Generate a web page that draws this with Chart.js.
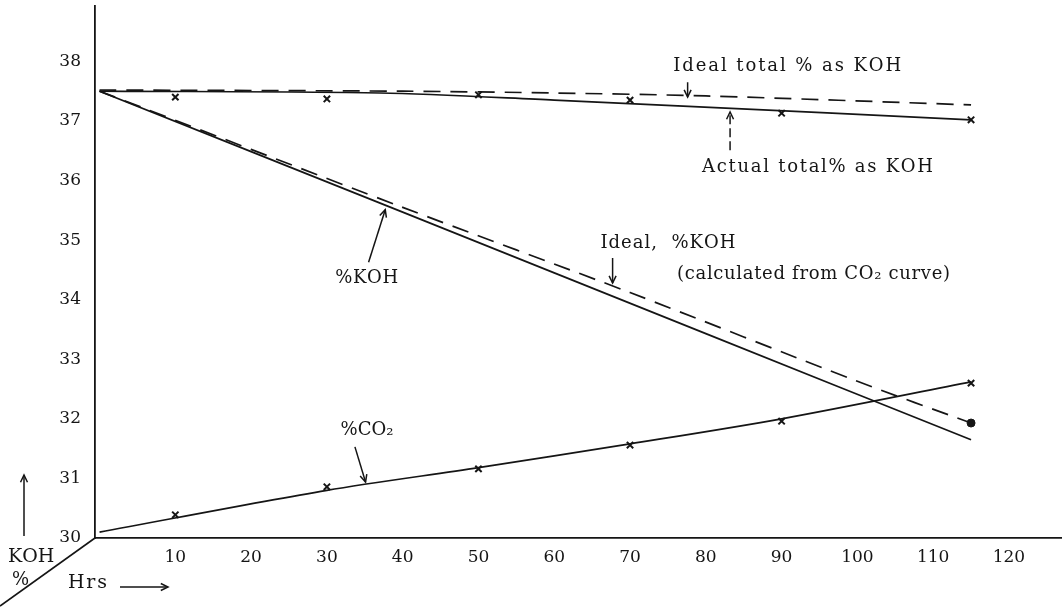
<!DOCTYPE html>
<html>
<head>
<meta charset="utf-8">
<script src="https://cdn.jsdelivr.net/npm/chart.js@4/dist/chart.umd.min.js"></script>
<style>
  html, body { margin: 0; padding: 0; background: #ffffff; }
  #wrap { width: 1062px; height: 608px; position: relative; }
</style>
</head>
<body>
<div id="wrap"><canvas id="c" width="1062" height="608"></canvas></div>
<script>
// ---------------- DATA ----------------
const xTickValues = [10, 20, 30, 40, 50, 60, 70, 80, 90, 100, 110, 120];
const yTickValues = [30, 31, 32, 33, 34, 35, 36, 37, 38];

// Marker readings (x crosses)
const markHours = [10, 30, 50, 70, 90, 115];
const actualTotalMarks = [37.40, 37.37, 37.44, 37.35, 37.13, 37.02];
const co2Marks = [30.39, 30.86, 31.16, 31.56, 31.96, 32.60];

// Drawn curves
const actualTotalHours = [0, 37, 60, 77, 115];
const actualTotalLine = [37.50, 37.47, 37.35, 37.25, 37.02];

const idealTotalHours = [0, 40, 60, 80, 115];
const idealTotalLine = [37.52, 37.50, 37.47, 37.42, 37.27];

const kohHours = [0, 40, 80, 115];
const kohLine = [37.50, 35.47, 33.43, 31.65];

const idealKohHours = [0, 40, 70, 100, 115];
const idealKohLine = [37.50, 35.55, 34.12, 32.63, 31.93];

const co2Hours = [0, 30, 50, 70, 90, 115];
const co2Line = [30.10, 30.80, 31.18, 31.58, 32.00, 32.62];

const idealKohEndHours = [115];
const idealKohEnd = [31.93];

// ---------------- HELPERS ----------------
function pts(xs, ys) { return xs.map((x, i) => ({ x: x, y: ys[i] })); }
const INK = '#151515';
const SERIF = '"DejaVu Serif", "Liberation Serif", serif';

function lineDS(xs, ys, dashed) {
  return {
    data: pts(xs, ys), showLine: true, borderColor: INK, borderWidth: 1.7,
    borderDash: dashed ? [17, 10] : [], pointRadius: 0, tension: 0.3,
    fill: false
  };
}
function markDS(xs, ys) {
  return {
    data: pts(xs, ys), showLine: false, pointStyle: 'crossRot',
    pointRadius: 4.5, pointBorderWidth: 2, pointBorderColor: INK,
    borderColor: INK, backgroundColor: INK
  };
}

// text with spacing fitted to a width, left-aligned, vertically centred
function fitText(ctx, text, x, y, width, size) {
  ctx.save();
  ctx.font = size + 'px ' + SERIF;
  ctx.fillStyle = INK;
  ctx.textBaseline = 'middle';
  ctx.textAlign = 'left';
  const chars = Array.from(text);
  const widths = chars.map(ch => ctx.measureText(ch).width);
  const natural = widths.reduce((a, b) => a + b, 0);
  const gap = chars.length > 1 ? Math.max(0, (width - natural) / (chars.length - 1)) : 0;
  let cx = x;
  chars.forEach((ch, i) => { ctx.fillText(ch, cx, y); cx += widths[i] + gap; });
  ctx.restore();
}
function arrow(ctx, x1, y1, x2, y2, dashed) {
  ctx.save();
  ctx.strokeStyle = INK; ctx.lineWidth = 1.5;
  if (dashed) ctx.setLineDash([9, 4]);
  ctx.beginPath(); ctx.moveTo(x1, y1); ctx.lineTo(x2, y2); ctx.stroke();
  ctx.setLineDash([]);
  const a = Math.atan2(y2 - y1, x2 - x1), L = 8, s = 0.45;
  ctx.beginPath();
  ctx.moveTo(x2 - L * Math.cos(a - s), y2 - L * Math.sin(a - s));
  ctx.lineTo(x2, y2);
  ctx.lineTo(x2 - L * Math.cos(a + s), y2 - L * Math.sin(a + s));
  ctx.stroke();
  ctx.restore();
}

// annotation anchors in data units (hours, %)
const notes = [
  { t: 'Ideal total % as KOH', h: 75.7, v: 37.91, w: 228 },
  { t: 'Actual total% as KOH', h: 79.5, v: 36.23, w: 231 },
  { t: 'Ideal,  %KOH', h: 66.1, v: 34.95, w: 135 },
  { t: '(calculated from CO₂ curve)', h: 76.2, v: 34.42, w: 273 },
  { t: '%KOH', h: 31.1, v: 34.36, w: 63 },
  { t: '%CO₂', h: 31.8, v: 31.81, w: 53 }
];
const arrows = [
  { h1: 77.6, v1: 37.65, h2: 77.6, v2: 37.40, dashed: false },
  { h1: 83.2, v1: 36.51, h2: 83.2, v2: 37.15, dashed: true },
  { h1: 67.7, v1: 34.70, h2: 67.7, v2: 34.28, dashed: false },
  { h1: 35.5, v1: 34.63, h2: 37.7, v2: 35.51, dashed: false },
  { h1: 33.7, v1: 31.53, h2: 35.1, v2: 30.94, dashed: false }
];

const annotate = {
  id: 'annotate',
  afterDraw(chart) {
    const ctx = chart.ctx, xs = chart.scales.x, ys = chart.scales.y;
    notes.forEach(n => fitText(ctx, n.t, xs.getPixelForValue(n.h), ys.getPixelForValue(n.v), n.w, 18));
    arrows.forEach(a => arrow(ctx,
      xs.getPixelForValue(a.h1), ys.getPixelForValue(a.v1),
      xs.getPixelForValue(a.h2), ys.getPixelForValue(a.v2), a.dashed));
    // axis furniture outside the plot area
    const L = chart.chartArea.left, B = chart.chartArea.bottom;
    ctx.save();
    ctx.strokeStyle = INK; ctx.lineWidth = 1.6;
    ctx.beginPath(); ctx.moveTo(L, B); ctx.lineTo(L - 95, B + 68); ctx.stroke();
    ctx.restore();
    fitText(ctx, 'KOH', L - 87, B + 19, 45, 19);
    fitText(ctx, '%', L - 83, B + 42, 14, 18);
    arrow(ctx, L - 71, B - 2, L - 71, B - 63, false);
    fitText(ctx, 'Hrs', L - 27, B + 45, 39, 19);
    arrow(ctx, L + 25, B + 49, L + 73, B + 49, false);
  }
};

const chart = new Chart(document.getElementById('c'), {
  type: 'scatter',
  data: {
    datasets: [
      lineDS(idealTotalHours, idealTotalLine, true),
      lineDS(actualTotalHours, actualTotalLine, false),
      lineDS(idealKohHours, idealKohLine, true),
      lineDS(kohHours, kohLine, false),
      lineDS(co2Hours, co2Line, false),
      markDS(markHours, actualTotalMarks),
      markDS(markHours, co2Marks),
      { data: pts(idealKohEndHours, idealKohEnd), showLine: false, pointStyle: 'circle',
        pointRadius: 4, backgroundColor: INK, borderColor: INK }
    ]
  },
  options: {
    responsive: false,
    animation: false,
    events: [],
    layout: { autoPadding: false, padding: { top: 6, left: 0, right: 0, bottom: 0 } },
    plugins: { legend: { display: false }, tooltip: { enabled: false }, title: { display: false } },
    scales: {
      x: {
        type: 'linear', min: -0.6, max: 127,
        afterFit(s) { s.height = 70; s.paddingLeft = 0; s.paddingRight = 0; },
        afterBuildTicks(s) { s.ticks = xTickValues.map(v => ({ value: v })); },
        grid: { display: false, drawTicks: false },
        border: { display: true, color: INK, width: 1.8 },
        ticks: { padding: 9, color: INK, font: { family: SERIF, size: 17 }, maxRotation: 0, autoSkip: false,
                 callback: v => String(v) }
      },
      y: {
        type: 'linear', min: 30, max: 38.93,
        afterFit(s) { s.width = 95; s.paddingTop = 0; s.paddingBottom = 0; },
        afterBuildTicks(s) { s.ticks = yTickValues.map(v => ({ value: v })); },
        grid: { display: false, drawTicks: false },
        border: { display: true, color: INK, width: 1.8 },
        ticks: { padding: 14, color: INK, font: { family: SERIF, size: 17 }, autoSkip: false,
                 callback: v => String(v) }
      }
    }
  },
  plugins: [annotate]
});
</script>
</body>
</html>
